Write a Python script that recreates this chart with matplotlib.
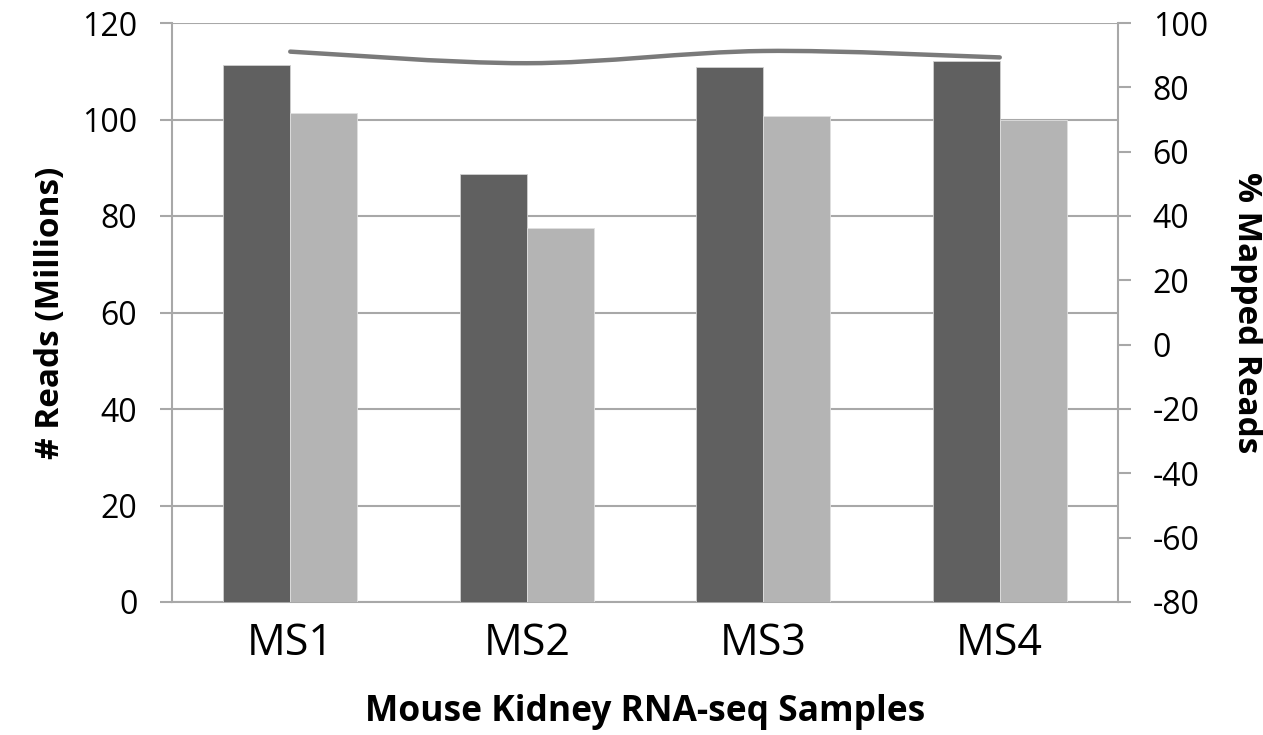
import numpy as np
import matplotlib.pyplot as plt
from matplotlib.path import Path
from matplotlib.patches import PathPatch

# ---- data ----
samples = ['MS1', 'MS2', 'MS3', 'MS4']
total_reads = [111.3, 88.8, 110.8, 112.1]     # millions, dark bars
mapped_reads = [101.4, 77.6, 100.7, 100.0]    # millions, light bars
pct_mapped = [91.1, 87.5, 91.3, 89.3]         # % mapped, right axis line

left_ticks = [0, 20, 40, 60, 80, 100, 120]
right_ticks = [-80, -60, -40, -20, 0, 20, 40, 60, 80, 100]

DARK = '#606060'
LIGHT = '#b4b4b4'
LINE = '#7a7a7a'
GRID = '#a8a8a8'

plt.rcParams['font.family'] = ['Open Sans', 'DejaVu Sans']
plt.rcParams['axes.unicode_minus'] = False

fig = plt.figure(figsize=(12.63, 7.35), dpi=100)
ax = fig.add_axes([172 / 1263, 1 - 602 / 735, (1118 - 172) / 1263, (602 - 23) / 735])

x = np.arange(len(samples))
w = 0.284
ax.bar(x - w / 2, total_reads, w, color=DARK, edgecolor='#d0d0d0', linewidth=0.6, zorder=3)
ax.bar(x + w / 2, mapped_reads, w, color=LIGHT, edgecolor='#e0e0e0', linewidth=0.6, zorder=3)

ax.set_xlim(-0.5, len(samples) - 0.5)
ax.set_ylim(0, 120)
ax.set_yticks(left_ticks)
ax.set_xticks(x)
ax.set_xticklabels(samples, fontsize=31)
ax.tick_params(axis='x', length=0, pad=14)
ax.tick_params(axis='y', direction='out', length=9, width=1.5, color=GRID,
               labelsize=23, pad=16)
ax.yaxis.grid(True, color=GRID, linewidth=1.5, zorder=0)
ax.set_axisbelow(True)
for s in ['top', 'right']:
    ax.spines[s].set_visible(False)
for s in ['left', 'bottom']:
    ax.spines[s].set_color(GRID)
    ax.spines[s].set_linewidth(1.5)

ax.set_xlabel('Mouse Kidney RNA-seq Samples', fontsize=25.5, fontweight='bold', labelpad=20)
ax.set_ylabel('# Reads (Millions)', fontsize=24, fontweight='bold', labelpad=11)

# ---- right axis: % mapped reads ----
ax2 = ax.twinx()
ax2.set_ylim(-80, 100)
ax2.set_yticks(right_ticks)
ax2.tick_params(axis='y', direction='out', length=9, width=1.5, color=GRID,
                labelsize=23, pad=16)
for s in ['top', 'left', 'bottom']:
    ax2.spines[s].set_visible(False)
ax2.spines['right'].set_color(GRID)
ax2.spines['right'].set_linewidth(1.5)

# smoothed line (Catmull-Rom style bezier through the data points)
pts = np.column_stack([x, pct_mapped]).astype(float)
verts = [pts[0]]
codes = [Path.MOVETO]
n = len(pts)
for i in range(n - 1):
    p0 = pts[i - 1] if i > 0 else pts[i]
    p1 = pts[i]
    p2 = pts[i + 1]
    p3 = pts[i + 2] if i + 2 < n else pts[i + 1]
    c1 = p1 + (p2 - p0) / 6.0
    c2 = p2 - (p3 - p1) / 6.0
    verts += [c1, c2, p2]
    codes += [Path.CURVE4] * 3
ax2.add_patch(PathPatch(Path(verts, codes), facecolor='none', edgecolor=LINE,
                        linewidth=3.2, capstyle='round', zorder=4))

fig.text(1246 / 1263, 1 - 313 / 735, '% Mapped Reads', rotation=270,
         fontsize=24, fontweight='bold', ha='center', va='center')

fig.savefig('out.png', dpi=100)
